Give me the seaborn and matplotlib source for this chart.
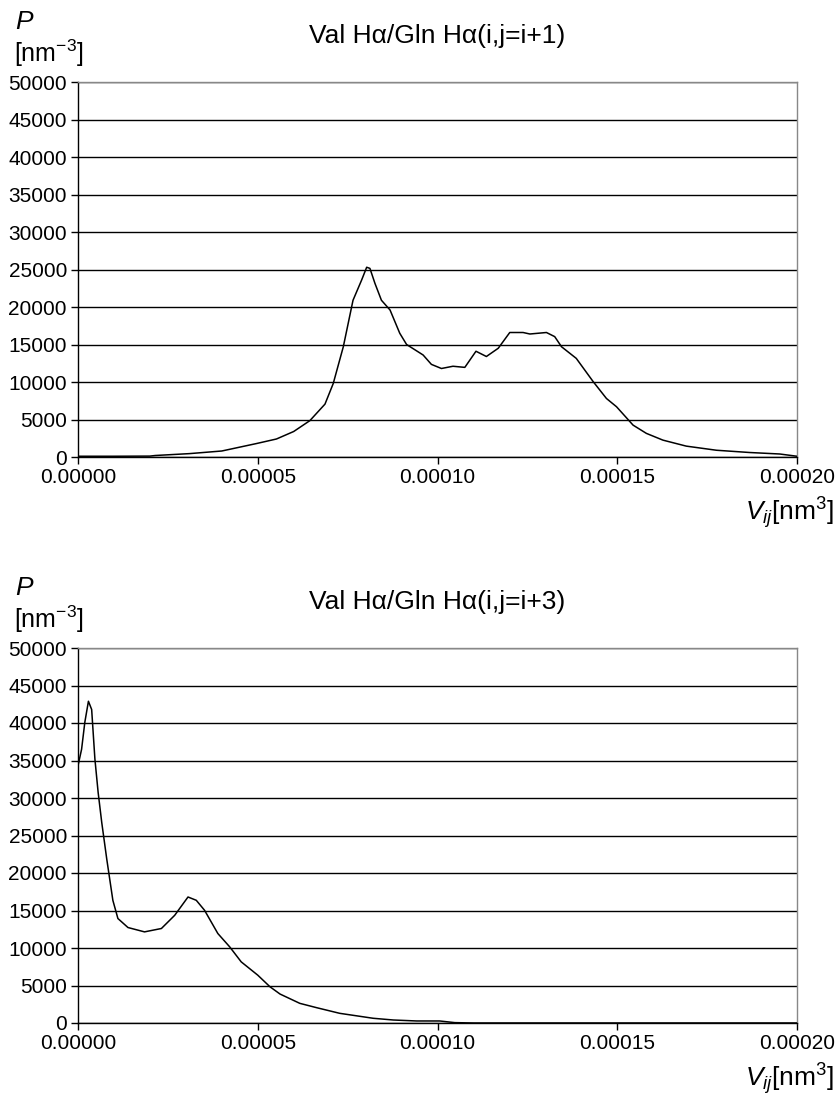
import numpy as np
import pandas as pd
import matplotlib
matplotlib.use("Agg")
import matplotlib.pyplot as plt
import seaborn as sns

# ---- data ----
x_top = [0.0, 0.00001, 0.00002, 0.0000215, 0.000031, 0.00004, 0.0000497, 0.0000552,
         0.00006, 0.0000645, 0.0000687, 0.000071, 0.0000738, 0.0000765, 0.0000789,
         0.0000803, 0.0000812, 0.0000826, 0.0000844, 0.0000868, 0.0000895, 0.0000914,
         0.000096, 0.0000983, 0.0001011, 0.0001043, 0.0001076, 0.0001107, 0.0001136,
         0.0001169, 0.0001201, 0.0001238, 0.0001257, 0.0001303, 0.0001326, 0.0001345,
         0.0001386, 0.0001433, 0.000147, 0.0001498, 0.0001544, 0.0001581, 0.0001627,
         0.0001692, 0.0001776, 0.0001868, 0.0001952, 0.0002]
p_top = [100, 100, 120, 200, 450, 800, 1800, 2400,
         3400, 4850, 7050, 9800, 14700, 20900, 23600,
         25300, 25150, 23150, 20900, 19600, 16500, 15000,
         13600, 12350, 11800, 12100, 11950, 14100, 13400,
         14500, 16600, 16600, 16400, 16600, 16050, 14700,
         13150, 10050, 7800, 6700, 4250, 3150, 2250,
         1450, 900, 600, 400, 100]

x_bot = [0.0, 0.000001, 0.0000019, 0.0000029, 0.0000038, 0.0000047, 0.0000056,
         0.0000066, 0.000008, 0.0000097, 0.0000111, 0.0000139, 0.0000185, 0.0000232,
         0.0000269, 0.0000306, 0.0000329, 0.0000352, 0.0000389, 0.0000422, 0.0000454,
         0.00005, 0.0000534, 0.0000562, 0.0000617, 0.0000664, 0.0000728, 0.0000821,
         0.0000877, 0.0000942, 0.0001006, 0.0001048, 0.00011, 0.00015, 0.0002]
p_bot = [34300, 36500, 40100, 42900, 41800, 35200, 30750,
         26750, 21850, 16350, 13930, 12730, 12150, 12600,
         14360, 16800, 16360, 15030, 11930, 10150, 8150,
         6380, 4830, 3860, 2620, 2040, 1290, 630,
         400, 270, 270, 50, 0, 0, 0]

titles = ["Val H\u03b1/Gln H\u03b1(i,j=i+1)", "Val H\u03b1/Gln H\u03b1(i,j=i+3)"]
y_ticks = [0, 5000, 10000, 15000, 20000, 25000, 30000, 35000, 40000, 45000, 50000]
x_ticks = [0.0, 0.00005, 0.00010, 0.00015, 0.00020]
x_ticklabels = ["0.00000", "0.00005", "0.00010", "0.00015", "0.00020"]

# ---- styling ----
sns.set_style("white")
plt.rcParams['font.family'] = ['Liberation Sans', 'DejaVu Sans']
plt.rcParams['mathtext.fontset'] = 'custom'
plt.rcParams['mathtext.rm'] = 'Liberation Sans'
plt.rcParams['mathtext.it'] = 'Liberation Sans:italic'
plt.rcParams['text.color'] = 'black'
plt.rcParams['xtick.color'] = 'black'
plt.rcParams['ytick.color'] = 'black'
plt.rcParams['axes.labelcolor'] = 'black'

W, H = 836, 1100
fig = plt.figure(figsize=(W / 100, H / 100), dpi=100)

def px(x, y):
    return x / W, 1 - y / H

panels = [
    (x_top, p_top, titles[0], 82, 457, 0),
    (x_bot, p_bot, titles[1], 648, 1023, 566),
]

for xs, ps, title, ytop, ybot, off in panels:
    left, right = 78, 797
    ax = fig.add_axes([left / W, 1 - ybot / H, (right - left) / W, (ybot - ytop) / H])
    df = pd.DataFrame({"V": xs, "P": ps})
    sns.lineplot(data=df, x="V", y="P", ax=ax, color="black", linewidth=1.1, zorder=3)
    ax.set_xlim(0, 0.0002)
    ax.set_ylim(0, 50000)
    ax.set_yticks(y_ticks)
    ax.set_yticklabels([str(t) for t in y_ticks])
    ax.set_xticks(x_ticks)
    ax.set_xticklabels(x_ticklabels)
    ax.set_xlabel("")
    ax.set_ylabel("")
    ax.yaxis.grid(True, color="black", linewidth=1.0, zorder=1)
    ax.xaxis.grid(False)
    ax.tick_params(axis="both", which="major", direction="out", length=5, width=1,
                   color="black", labelcolor="black", labelsize=15, pad=3,
                   left=True, bottom=True)
    for s in ["left", "bottom"]:
        ax.spines[s].set_color("black")
        ax.spines[s].set_linewidth(1.0)
    for s in ["top", "right"]:
        ax.spines[s].set_color("#888888")
        ax.spines[s].set_linewidth(1.0)
    ax.set_facecolor("white")

    fig.text(*px(437, 36 + off), title, ha="center", va="center", fontsize=19, color="black")
    fig.text(*px(15, 22 + off), "$\\it{P}$", ha="left", va="center", fontsize=19, color="black")
    fig.text(*px(14, 53 + off), "[nm$^{-3}$]", ha="left", va="center", fontsize=18, color="black")
    fig.text(*px(834, 513 + off), "$V_{ij}$[nm$^{3}$]", ha="right", va="center",
             fontsize=19, color="black")

fig.savefig("out.png", dpi=100, facecolor="white")
